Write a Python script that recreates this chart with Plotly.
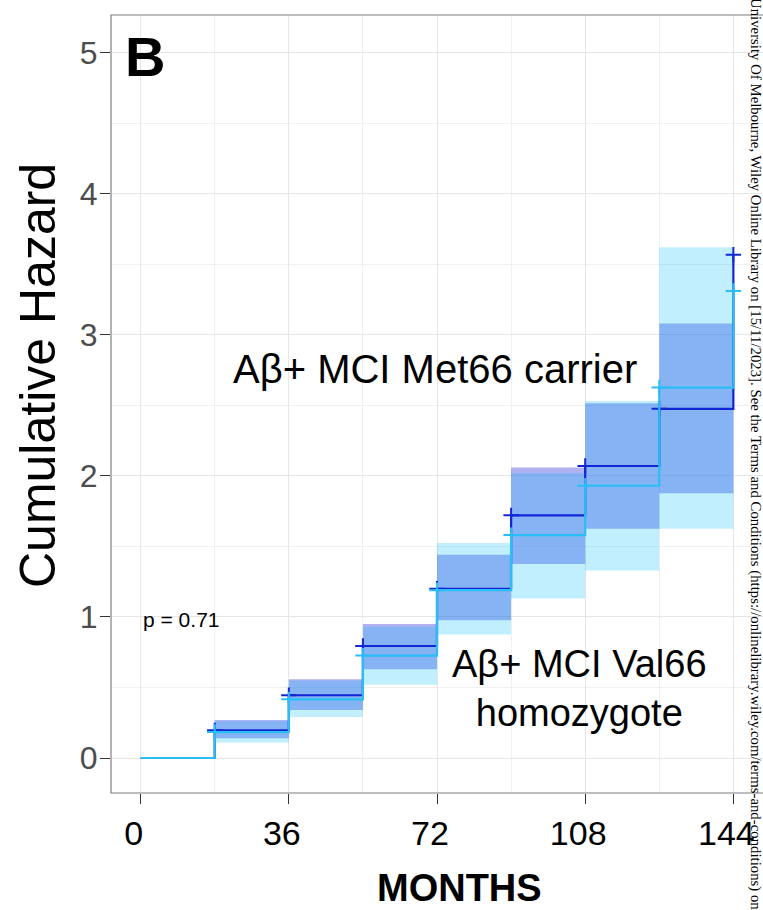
import plotly.graph_objects as go

# ---- data ----
months = [0, 18, 36, 54, 72, 90, 108, 126, 144]
met66_hazard = [0, 0.196, 0.445, 0.794, 1.20, 1.72, 2.07, 2.475, 3.567]
val66_hazard = [0, 0.184, 0.416, 0.726, 1.19, 1.58, 1.93, 2.626, 3.31]
met66_lower = [0, 0.14, 0.34, 0.63, 0.977, 1.376, 1.626, 1.877, 1.877]
met66_upper = [0, 0.27, 0.558, 0.95, 1.44, 2.06, 2.515, 3.08, 3.08]
val66_lower = [0, 0.11, 0.29, 0.52, 0.875, 1.13, 1.33, 1.626, 1.626]
val66_upper = [0, 0.262, 0.55, 0.93, 1.525, 2.02, 2.53, 3.62, 3.62]
x_ticks = [0, 36, 72, 108, 144]
y_ticks = [0, 1, 2, 3, 4, 5]

DARK = "#1226D6"
LIGHT = "#2BBEF6"
DARK_FILL = "rgba(60,60,220,0.40)"
LIGHT_FILL = "rgba(0,190,250,0.24)"
FONT = "Liberation Sans, Arial, sans-serif"

fig = go.Figure()

# confidence bands
fig.add_trace(go.Scatter(x=months, y=met66_lower, mode="lines", line=dict(width=0, shape="hv"),
                         hoverinfo="skip", showlegend=False))
fig.add_trace(go.Scatter(x=months, y=met66_upper, mode="lines", line=dict(width=0, shape="hv"),
                         fill="tonexty", fillcolor=DARK_FILL, hoverinfo="skip", showlegend=False))
fig.add_trace(go.Scatter(x=months, y=val66_lower, mode="lines", line=dict(width=0, shape="hv"),
                         hoverinfo="skip", showlegend=False))
fig.add_trace(go.Scatter(x=months, y=val66_upper, mode="lines", line=dict(width=0, shape="hv"),
                         fill="tonexty", fillcolor=LIGHT_FILL, hoverinfo="skip", showlegend=False))

# step curves
fig.add_trace(go.Scatter(x=months, y=met66_hazard, mode="lines", line=dict(color=DARK, width=2.2, shape="hv"),
                         name="Met66 carrier", showlegend=False))
fig.add_trace(go.Scatter(x=months[1:], y=met66_hazard[1:], mode="markers",
                         marker=dict(symbol="cross-thin", size=11, line=dict(color=DARK, width=2)),
                         showlegend=False))
fig.add_trace(go.Scatter(x=months, y=val66_hazard, mode="lines", line=dict(color=LIGHT, width=2.2, shape="hv"),
                         name="Val66 homozygote", showlegend=False))
fig.add_trace(go.Scatter(x=months[1:], y=val66_hazard[1:], mode="markers",
                         marker=dict(symbol="cross-thin", size=11, line=dict(color=LIGHT, width=2)),
                         showlegend=False))

fig.update_layout(
    width=763, height=910,
    margin=dict(l=111, r=0, t=15, b=117),
    paper_bgcolor="white", plot_bgcolor="white",
    font=dict(family=FONT, color="black"),
    xaxis=dict(range=[-7.2, 151.2], tickvals=x_ticks, ticktext=[str(v) for v in x_ticks],
               automargin=False, ticklabeloverflow="allow", ticklabelshift=-7,
               showgrid=True, gridcolor="#E6E6E6", gridwidth=1,
               minor=dict(dtick=18, tick0=18, showgrid=True, gridcolor="#F0F0F0", gridwidth=1),
               ticks="outside", ticklen=10, tickcolor="#333333", tickwidth=1.2,
               tickfont=dict(size=34, color="black"),
               zeroline=False, showline=False),
    yaxis=dict(range=[-0.248, 5.267], tickvals=y_ticks, automargin=False, ticklabelstandoff=-4,
               showgrid=True, gridcolor="#E6E6E6", gridwidth=1,
               minor=dict(dtick=0.5, tick0=0.5, showgrid=True, gridcolor="#F0F0F0", gridwidth=1),
               ticks="outside", ticklen=10, tickcolor="#333333", tickwidth=1.2,
               tickfont=dict(size=32, color="#4D4D4D"),
               zeroline=False, showline=False),
    shapes=[dict(type="rect", xref="paper", yref="paper", x0=0, x1=1.01, y0=0, y1=1,
                 line=dict(color="#7F7F7F", width=1.2), fillcolor="rgba(0,0,0,0)", layer="above")],
)

ann = [
    dict(text="<b>B</b>", x=-4.3, y=4.97, xref="x", yref="y", xanchor="left", yanchor="middle",
         showarrow=False, font=dict(size=56, color="black")),
    dict(text="Aβ+ MCI Met66 carrier", x=71.5, y=2.76, xref="x", yref="y", showarrow=False,
         font=dict(size=40, color="black")),
    dict(text="Aβ+ MCI Val66<br>homozygote", x=106.7, y=0.49, xref="x", yref="y", showarrow=False,
         font=dict(size=38, color="black")),
    dict(text="p = 0.71", x=0, y=0.98, xref="x", yref="y", xanchor="left", showarrow=False,
         font=dict(size=21, color="black")),
    dict(text="<b>MONTHS</b>", x=(459 - 111) / 652, y=-(888 - 793) / 778, xref="paper", yref="paper",
         xanchor="center", yanchor="middle", showarrow=False, font=dict(size=38, color="black")),
    dict(text="Cumulative Hazard", x=-(111 - 38) / 652, y=(793 - 376) / 778, xref="paper", yref="paper",
         xanchor="center", yanchor="middle", textangle=-90, showarrow=False, font=dict(size=50, color="black")),
    dict(text="University Of Melbourne, Wiley Online Library on [15/11/2023]. See the Terms and Conditions "
              "(https://onlinelibrary.wiley.com/terms-and-conditions) on",
         x=(756 - 111) / 652, y=(793 - 454) / 778, xref="paper", yref="paper", xanchor="center", yanchor="middle",
         textangle=90, showarrow=False,
         font=dict(size=14.8, color="black", family="Liberation Serif, Times New Roman, serif")),
]
fig.update_layout(annotations=ann)

fig.write_html("out.html", config={"displayModeBar": False},
               post_script="document.body.style.margin='0px';document.body.style.overflow='hidden';")
